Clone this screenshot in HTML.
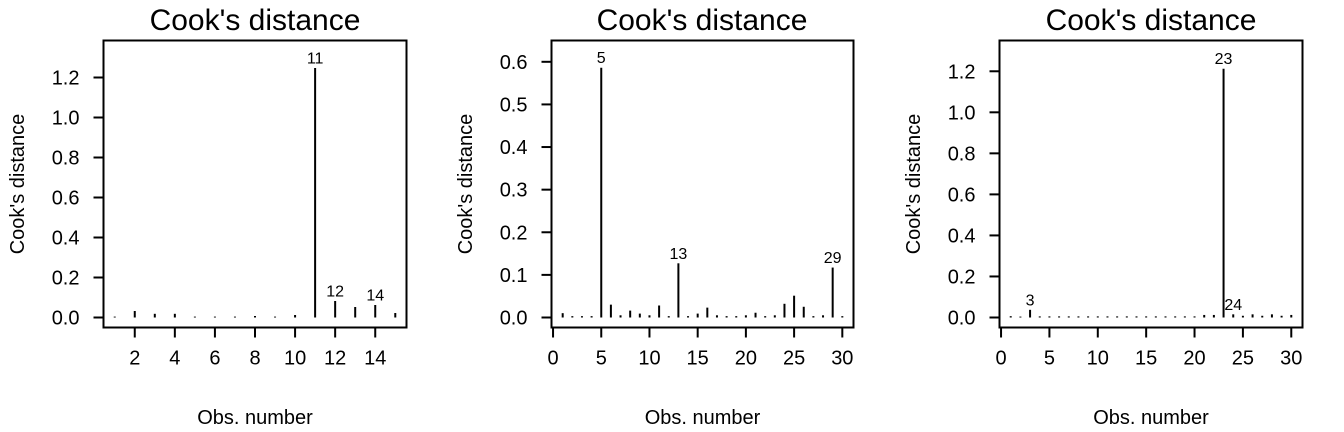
<!DOCTYPE html>
<html><head><meta charset="utf-8"><style>
html,body{margin:0;padding:0;background:#fff;}
svg{display:block;font-family:"Liberation Sans",Arial,sans-serif;}
</style></head><body>
<svg id="chart" width="1344" height="432" viewBox="0 0 1344 432"></svg>
<script>
// Panel 1 data
const p1Obs = [1,2,3,4,5,6,7,8,9,10,11,12,13,14,15];
const p1Vals = [0.002,0.03,0.016,0.016,0.002,0.002,0.002,0.005,0.002,0.01,1.245,0.08,0.05,0.06,0.02];
const p1Labels = [11,12,14];
const p1XTicks = [2,4,6,8,10,12,14];
const p1YTicks = [0,0.2,0.4,0.6,0.8,1.0,1.2];
// Panel 2 data
const p2Obs = [1,2,3,4,5,6,7,8,9,10,11,12,13,14,15,16,17,18,19,20,21,22,23,24,25,26,27,28,29,30];
const p2Vals = [0.009,0.002,0.002,0.002,0.585,0.029,0.004,0.015,0.008,0.004,0.027,0.002,0.126,0.002,0.008,0.022,0.004,0.002,0.002,0.004,0.01,0.002,0.004,0.031,0.05,0.024,0.002,0.004,0.116,0.002];
const p2Labels = [5,13,29];
const p2XTicks = [0,5,10,15,20,25,30];
const p2YTicks = [0,0.1,0.2,0.3,0.4,0.5,0.6];
// Panel 3 data
const p3Obs = [1,2,3,4,5,6,7,8,9,10,11,12,13,14,15,16,17,18,19,20,21,22,23,24,25,26,27,28,29,30];
const p3Vals = [0.004,0.002,0.035,0.003,0.003,0.003,0.003,0.003,0.003,0.003,0.003,0.003,0.003,0.003,0.003,0.003,0.003,0.003,0.003,0.003,0.01,0.01,1.21,0.013,0.006,0.013,0.006,0.013,0.006,0.01];
const p3Labels = [3,23,24];
const p3XTicks = [0,5,10,15,20,25,30];
const p3YTicks = [0,0.2,0.4,0.6,0.8,1.0,1.2];

const NS='http://www.w3.org/2000/svg';
const svg=document.getElementById('chart');
function mk(tag,attrs,parent){const e=document.createElementNS(NS,tag);for(const k in attrs)e.setAttribute(k,attrs[k]);(parent||svg).appendChild(e);return e;}

const panels=[
 {obs:p1Obs,vals:p1Vals,labels:p1Labels,xt:p1XTicks,yt:p1YTicks,left:103.5,right:406.5,xmin:0.44,xmax:15.56,ymax:1.385,ylabX:24,cx:255},
 {obs:p2Obs,vals:p2Vals,labels:p2Labels,xt:p2XTicks,yt:p2YTicks,left:551.5,right:853.5,xmin:-0.16,xmax:31.16,ymax:0.65,ylabX:472,cx:702},
 {obs:p3Obs,vals:p3Vals,labels:p3Labels,xt:p3XTicks,yt:p3YTicks,left:999.5,right:1302.5,xmin:-0.16,xmax:31.16,ymax:1.35,ylabX:920,cx:1151}
];
const plotTop=40.5,plotBottom=327.5,y0=317.5;

panels.forEach((p,pi)=>{
  const g=mk('g',{});
  
  
  const x=v=>p.left+(v-p.xmin)/(p.xmax-p.xmin)*(p.right-p.left);
  const y=v=>y0-v/p.ymax*(y0-plotTop);
  const t=mk('text',{x:p.cx,y:30,'font-size':30,'text-anchor':'middle'},g);t.textContent="Cook's distance";
  
  
  const box=mk('rect',{x:p.left,y:plotTop,width:p.right-p.left,height:plotBottom-plotTop,fill:'none',stroke:'#000','stroke-width':2},g);
  
  
  p.yt.forEach(v=>{
    const yy=y(v);
    mk('line',{x1:p.left-10,x2:p.left,y1:yy,y2:yy,stroke:'#000','stroke-width':2},g);
    const l=mk('text',{x:p.left-24,y:yy+7,'font-size':20,'text-anchor':'end'},g);l.textContent=v.toFixed(1);
    
    
  });
  p.xt.forEach(v=>{
    const xx=x(v);
    mk('line',{x1:xx,x2:xx,y1:plotBottom,y2:plotBottom+10,stroke:'#000','stroke-width':2},g);
    const l=mk('text',{x:xx,y:plotBottom+37,'font-size':20,'text-anchor':'middle'},g);l.textContent=v;
    
    
  });
  const xl=mk('text',{x:(p.left+p.right)/2,y:424,'font-size':20,'text-anchor':'middle'},g);xl.textContent='Obs. number';
  
  
  const yl=mk('text',{x:0,y:0,'font-size':20,'text-anchor':'middle',transform:`translate(${p.ylabX},${(plotTop+plotBottom)/2}) rotate(-90)`},g);yl.textContent="Cook's distance";
  
  
  p.obs.forEach((o,i)=>{
    const xx=x(o);
    const b=mk('line',{x1:xx,x2:xx,y1:y0,y2:y(p.vals[i])-0.5,stroke:'#000','stroke-width':2},g);
    
    
  });
  p.labels.forEach(o=>{
    const i=p.obs.indexOf(o);
    const l=mk('text',{x:x(o),y:y(p.vals[i])-5,'font-size':16,'text-anchor':'middle'},g);l.textContent=o;
    
    
  });
});
</script>
</body></html>
